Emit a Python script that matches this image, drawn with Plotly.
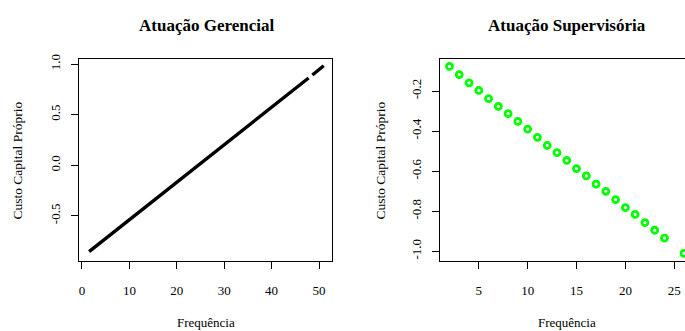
import plotly.graph_objects as go

W, H = 685, 331

# ---- Data: Atuação Gerencial (dense black line)
ger_freq = [1.5, 10, 20, 30, 40, 47.8, None, 48.6, 51]
ger_custo = [-0.855, -0.540, -0.168, 0.203, 0.574, 0.863, None, 0.892, 0.984]

# ---- Data: Atuação Supervisória (green open circles)
sup_freq = [2, 3, 4, 5, 6, 7, 8, 9, 10, 11, 12, 13, 14, 15, 16, 17, 18, 19, 20,
            21, 22, 23, 24, 26]
sup_custo = [-0.077, -0.118, -0.159, -0.197, -0.238, -0.277, -0.313, -0.352,
             -0.390, -0.431, -0.472, -0.508, -0.546, -0.587, -0.624, -0.665,
             -0.701, -0.742, -0.782, -0.816, -0.857, -0.895, -0.934, -1.011]

# ---- Tick labels
ger_xticks = [0, 10, 20, 30, 40, 50]
ger_xtext = ["0", "10", "20", "30", "40", "50"]
ger_yticks = [-0.5, 0.0, 0.5, 1.0]
ger_ytext = ["-0.5", "0.0", "0.5", "1.0"]
sup_xticks = [5, 10, 15, 20, 25]
sup_xtext = ["5", "10", "15", "20", "25"]
sup_yticks = [-1.0, -0.8, -0.6, -0.4, -0.2]
sup_ytext = ["-1.0", "-0.8", "-0.6", "-0.4", "-0.2"]

titles = ["Atuação Gerencial", "Atuação Supervisória"]
xlabel = "Frequência"
ylabel = "Custo Capital Próprio"

FONT = "Liberation Serif"

fig = go.Figure()
fig.add_trace(go.Scatter(x=ger_freq, y=ger_custo, mode="lines",
                         line=dict(color="black", width=3.4),
                         xaxis="x", yaxis="y", showlegend=False))
fig.add_trace(go.Scatter(x=sup_freq, y=sup_custo, mode="markers",
                         marker=dict(symbol="circle-open", color="#00FF00",
                                     size=6, line=dict(width=2.8, color="#00FF00")),
                         xaxis="x2", yaxis="y2", showlegend=False))

def px_x(p):
    return p / W

def px_y(p):
    return 1 - p / H

ydom = [px_y(260), px_y(55)]

axis_common = dict(showgrid=False, zeroline=False, showline=True,
                   linecolor="black", linewidth=1, ticks="outside", ticklen=7,
                   tickcolor="black", tickwidth=1,
                   tickfont=dict(family=FONT, size=13, color="black"))

fig.update_layout(
    width=W, height=H, margin=dict(l=0, r=0, t=0, b=0),
    paper_bgcolor="white", plot_bgcolor="white",
    xaxis=dict(domain=[px_x(79), px_x(332)], range=[-0.63, 52.74],
               tickmode="array", tickvals=ger_xticks, ticktext=ger_xtext,
               mirror=True, anchor="y", ticklabelstandoff=10, **axis_common),
    yaxis=dict(domain=ydom, range=[-0.948, 1.049],
               tickmode="array", tickvals=ger_yticks, ticktext=ger_ytext,
               tickangle=-90, mirror=True, anchor="x", ticklabelstandoff=6,
               **axis_common),
    xaxis2=dict(domain=[px_x(440), 1.0], range=[1.03, 26.1],
                tickmode="array", tickvals=sup_xticks, ticktext=sup_xtext,
                mirror=True, anchor="y2", ticklabelstandoff=10, **axis_common),
    yaxis2=dict(domain=ydom, range=[-1.049, -0.041],
                tickmode="array", tickvals=sup_yticks, ticktext=sup_ytext,
                tickangle=-90, mirror=False, anchor="x2", ticklabelstandoff=6,
                **axis_common),
)

ann = []
for cx, t in [(206, titles[0]), (567, titles[1])]:
    ann.append(dict(x=px_x(cx), y=px_y(21), xref="paper", yref="paper",
                    text="<b>" + t + "</b>", showarrow=False,
                    xanchor="center", yanchor="middle",
                    font=dict(family=FONT, size=17, color="black")))
for cx in [206, 567]:
    ann.append(dict(x=px_x(cx), y=px_y(322), xref="paper", yref="paper",
                    text=xlabel, showarrow=False, xanchor="center", yanchor="middle",
                    font=dict(family=FONT, size=13, color="black")))
for cx in [18, 381]:
    ann.append(dict(x=px_x(cx), y=px_y(158), xref="paper", yref="paper",
                    text=ylabel, showarrow=False, textangle=-90,
                    xanchor="center", yanchor="middle",
                    font=dict(family=FONT, size=13.5, color="black")))
fig.update_layout(annotations=ann)

fig.write_html("out.html",
               config={"displayModeBar": False},
               post_script="document.body.style.margin='0';"
                           "document.body.style.overflow='hidden';")
